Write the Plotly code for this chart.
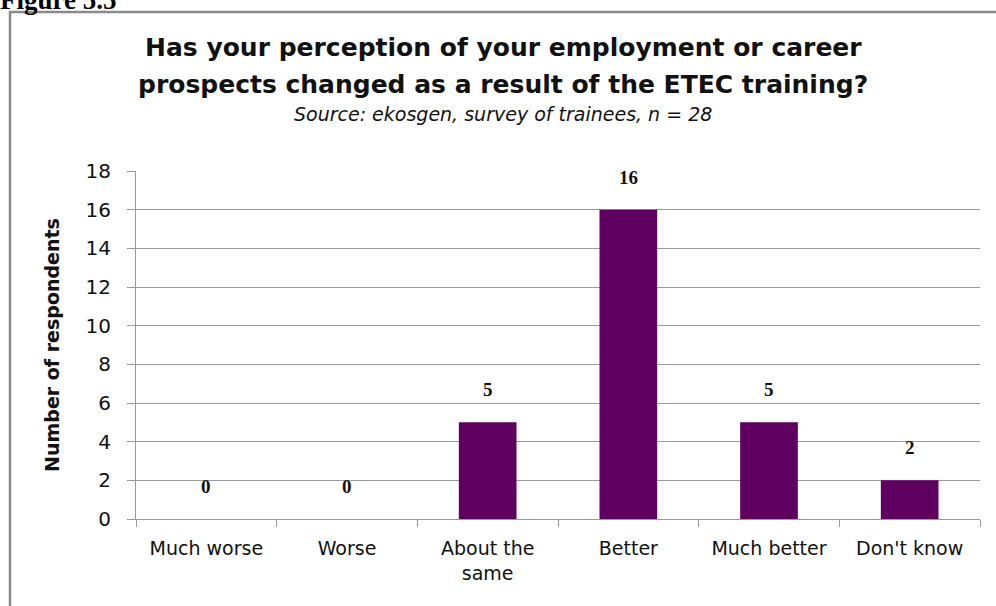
import plotly.graph_objects as go

categories = ["Much worse", "Worse", "About the<br>same", "Better", "Much better", "Don't know"]
values = [0, 0, 5, 16, 5, 2]
y_ticks = [0, 2, 4, 6, 8, 10, 12, 14, 16, 18]

title_lines = ["Has your perception of your employment or career",
               "prospects changed as a result of the ETEC training?"]

W, H = 996, 606
ML, MR, MT, MB = 136, 16, 171, 87
PW = W - ML - MR
PH = H - MT - MB

def px_x(p):
    return (p - ML) / PW

def px_y(p):
    return (H - MB - p) / PH

bar_color = "#5F0061"
font_family = "DejaVu Sans, Lato, sans-serif"

fig = go.Figure()
fig.add_trace(go.Bar(
    x=categories, y=values, marker=dict(color=bar_color, line=dict(width=0)),
    width=0.41, showlegend=False,
))

annotations = []
for c, v in zip(categories, values):
    annotations.append(dict(
        x=c, y=v, xref="x", yref="y", text=str(v), showarrow=False,
        yanchor="bottom", yshift=20,
        font=dict(family="Liberation Serif, serif", size=19, color="#111111", weight="bold"),
    ))

cx = px_x((10 + 996) / 2)
annotations += [
    dict(x=cx, y=px_y(47), xref="paper", yref="paper", text="<b>" + title_lines[0] + "</b>",
         showarrow=False, xanchor="center", yanchor="middle",
         font=dict(family=font_family, size=25, color="#111111")),
    dict(x=cx, y=px_y(85), xref="paper", yref="paper", text="<b>" + title_lines[1] + "</b>",
         showarrow=False, xanchor="center", yanchor="middle",
         font=dict(family=font_family, size=25, color="#111111")),
    dict(x=cx, y=px_y(114), xref="paper", yref="paper",
         text="<i>Source: ekosgen, survey of trainees, n</i> = <i>28</i>",
         showarrow=False, xanchor="center", yanchor="middle",
         font=dict(family=font_family, size=19, color="#111111")),
    dict(x=px_x(-2), y=px_y(0), xref="paper", yref="paper", text="<b>Figure 5.5</b>",
         showarrow=False, xanchor="left", yanchor="middle",
         font=dict(family="Liberation Serif, serif", size=27, color="#000000")),
]

fig.update_layout(
    width=W, height=H,
    margin=dict(l=ML, r=MR, t=MT, b=MB),
    paper_bgcolor="white", plot_bgcolor="white",
    bargap=0.59,
    annotations=annotations,
    shapes=[dict(type="rect", xref="paper", yref="paper",
                 x0=px_x(10), x1=px_x(1000), y0=px_y(610), y1=px_y(12),
                 line=dict(color="#8a8a8a", width=2.5), fillcolor="rgba(0,0,0,0)", layer="below")],
    font=dict(family=font_family, color="#111111"),
)

fig.update_xaxes(
    showgrid=False, showline=True, linecolor="#9a9a9a", linewidth=1,
    ticks="outside", tickson="boundaries", ticklen=7, tickcolor="#9a9a9a",
    ticklabelstandoff=12,
    tickfont=dict(family=font_family, size=19, color="#111111"),
)
fig.update_yaxes(
    range=[0, 18], tickvals=y_ticks, showgrid=True, gridcolor="#9a9a9a", gridwidth=1,
    showline=True, linecolor="#9a9a9a", linewidth=1, zeroline=False,
    ticks="outside", ticklen=8, tickcolor="#9a9a9a",
    ticklabelstandoff=12,
    tickfont=dict(family=font_family, size=20, color="#111111"),
    title=dict(text="<b>Number of respondents</b>", standoff=20,
               font=dict(family=font_family, size=19, color="#111111")),
)

fig.write_html("out.html", config={"displayModeBar": False},
               post_script="document.body.style.margin='0';")
